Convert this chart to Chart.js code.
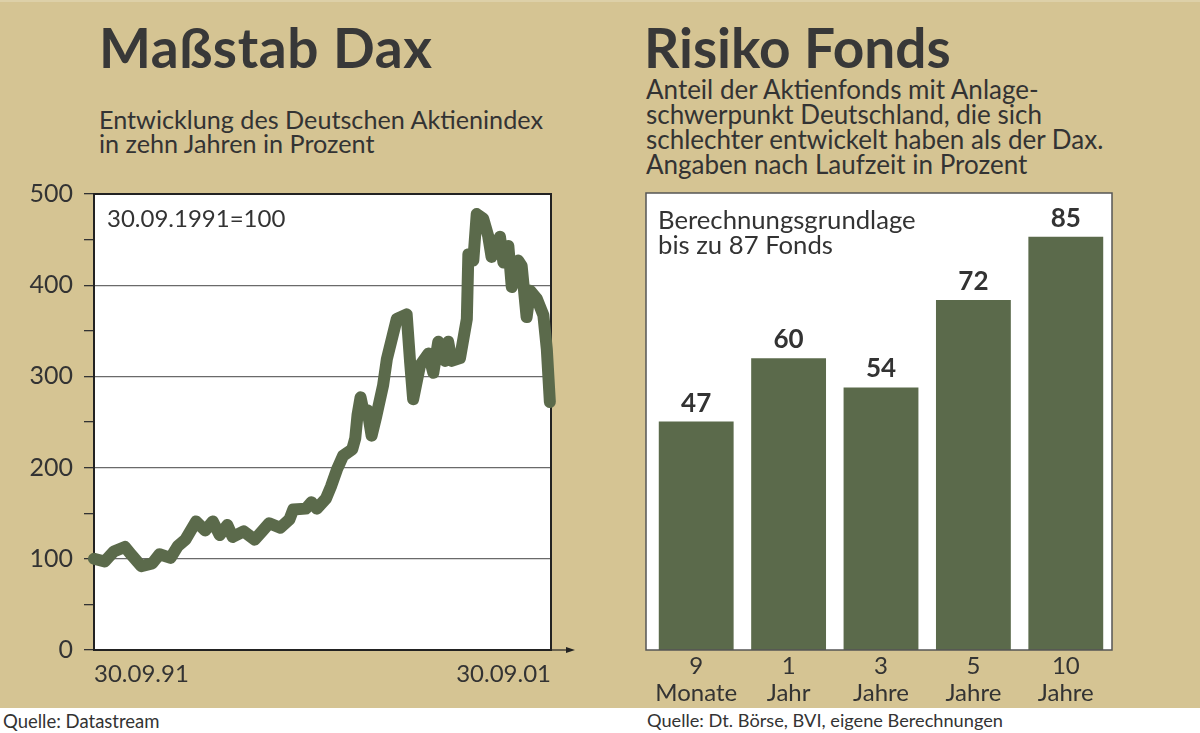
<!DOCTYPE html>
<html><head><meta charset="utf-8">
<script src="https://cdn.jsdelivr.net/npm/chart.js@4.4.0/dist/chart.umd.min.js"></script>
<style>
html,body{margin:0;padding:0;}
body{width:1200px;height:733px;position:relative;background:#d5c493;overflow:hidden;font-family:Lato,sans-serif;color:#333;}
.t{position:absolute;white-space:nowrap;}
#topstrip{position:absolute;left:0;top:0;width:1200px;height:2px;background:#ddd0a8;}
#foot{position:absolute;left:0;top:708px;width:1200px;height:25px;background:#fff;}
canvas{position:absolute;}
</style></head><body>
<div id="topstrip"></div>
<div class="t" style="left:99px;top:14px;font-size:55px;font-weight:700;line-height:1.2;letter-spacing:0.6px;color:#383838;">Maßstab Dax</div>
<div class="t" style="left:99px;top:108px;font-size:25.2px;line-height:23.5px;">Entwicklung des Deutschen Aktienindex<br>in zehn Jahren in Prozent</div>
<div class="t" style="left:644px;top:14px;font-size:55px;font-weight:700;line-height:1.2;color:#383838;">Risiko Fonds</div>
<div class="t" style="left:646px;top:77px;font-size:26px;line-height:25px;">Anteil der Aktienfonds mit Anlage-<br>schwerpunkt Deutschland, die sich<br>schlechter entwickelt haben als der Dax.<br>Angaben nach Laufzeit in Prozent</div>
<div id="foot"></div>
<div class="t" style="left:3px;top:710px;font-size:18.5px;line-height:1.2;">Quelle: Datastream</div>
<div class="t" style="left:647px;top:710px;font-size:18.2px;line-height:1.2;">Quelle: Dt. Börse, BVI, eigene Berechnungen</div>
<canvas id="dax" width="600" height="708" style="left:0;top:0;"></canvas>
<canvas id="fonds" width="600" height="708" style="left:600px;top:0;"></canvas>
<div class="t" style="left:107px;top:204px;font-size:24px;line-height:1.2;">30.09.1991=100</div>
<div class="t" style="left:658px;top:207px;font-size:25.7px;line-height:24.7px;">Berechnungsgrundlage<br>bis zu 87 Fonds</div>
<script>
// ---- Data: DAX, months since 30.09.1991, index 30.09.1991 = 100
const daxMonths = [0, 2.8, 5.2, 8.1, 9.5, 12.4, 15.3, 17.2, 20.1, 22.0, 24.0, 26.8, 29.2, 31.2, 33.0, 35.0, 36.4, 39.3, 42.2, 44.1, 46.0, 48.9, 51.3, 52.3, 55.6, 57.1, 58.5, 60.9, 62.2, 63.8, 65.4, 67.8, 68.6, 69.2, 70.0, 70.9, 71.8, 72.9, 74.1, 75.9, 76.9, 79.5, 82.1, 83.0, 83.8, 85.6, 87.8, 89.1, 90.4, 92.2, 93.0, 93.9, 96.1, 97.9, 98.3, 99.6, 100.5, 102.2, 103.5, 104.4, 106.6, 107.5, 108.8, 109.7, 111.4, 112.3, 113.6, 114.5, 116.3, 118.0, 118.9, 119.7];
const daxValues = [100, 97, 108, 113, 106, 92, 95, 105, 101, 114, 121, 141, 131, 141, 126, 137, 124, 130, 121, 130, 139, 134, 143, 154, 155, 162, 155, 166, 179, 198, 213, 220, 232, 258, 277, 259, 263, 235, 256, 290, 319, 363, 368, 316, 275, 312, 325, 304, 338, 317, 338, 317, 320, 363, 434, 427, 478, 473, 454, 431, 453, 425, 443, 398, 427, 421, 365, 394, 385, 367, 330, 272];
const daxYTicks = [0, 100, 200, 300, 400, 500];
const daxXTickLabels = ['30.09.91', '30.09.01'];

// ---- Data: Fonds
const fondsCategories = [['9', 'Monate'], ['1', 'Jahr'], ['3', 'Jahre'], ['5', 'Jahre'], ['10', 'Jahre']];
const fondsValues = [47, 60, 54, 72, 85];

const GREEN = '#5b6a4b';
const INK = '#333333';
Chart.defaults.font.family = 'Lato, sans-serif';
Chart.defaults.color = INK;

const daxFrame = {
  id: 'daxFrame',
  beforeDraw(chart) {
    const {ctx, chartArea: a} = chart;
    ctx.save();
    ctx.fillStyle = '#ffffff';
    ctx.fillRect(a.left, a.top, a.right - a.left, a.bottom - a.top);
    ctx.restore();
  },
  beforeDatasetsDraw(chart) {
    const {ctx, chartArea: a} = chart;
    ctx.save();
    ctx.strokeStyle = '#222';
    ctx.lineWidth = 2;
    ctx.strokeRect(a.left, a.top, a.right - a.left, a.bottom - a.top);
    // arrow on x axis
    ctx.lineWidth = 1.2;
    ctx.beginPath();
    ctx.moveTo(a.right, a.bottom);
    ctx.lineTo(a.right + 18, a.bottom);
    ctx.stroke();
    ctx.fillStyle = '#222';
    ctx.beginPath();
    ctx.moveTo(a.right + 24, a.bottom);
    ctx.lineTo(a.right + 15, a.bottom - 3);
    ctx.lineTo(a.right + 15, a.bottom + 3);
    ctx.closePath();
    ctx.fill();
    ctx.restore();
  }
};

new Chart(document.getElementById('dax'), {
  type: 'line',
  data: {
    datasets: [{
      data: daxMonths.map((m, i) => ({x: m, y: daxValues[i]})),
      borderColor: GREEN,
      borderWidth: 12,
      borderJoinStyle: 'round',
      borderCapStyle: 'round',
      pointRadius: 0,
      tension: 0,
      clip: false
    }]
  },
  options: {
    responsive: false,
    animation: false,
    devicePixelRatio: 1,
    layout: {padding: {top: 194, left: 0, right: 49, bottom: 0}},
    plugins: {legend: {display: false}, tooltip: {enabled: false}},
    scales: {
      x: {
        type: 'linear', min: 0, max: 120,
        afterBuildTicks(s) { s.ticks = [{value: 0}, {value: 120}]; },
        afterFit(s) { s.height = 58; },
        ticks: {
          align: 'inner', autoSkip: false, maxRotation: 0,
          callback: (v, i) => daxXTickLabels[i],
          font: {size: 24}, color: INK, padding: 10
        },
        grid: {display: false, drawTicks: false},
        border: {display: false}
      },
      y: {
        min: 0, max: 500,
        afterFit(s) { s.width = 94; },
        ticks: {
          stepSize: 50,
          callback: (v) => daxYTicks.includes(v) ? String(v) : '',
          font: {size: 25}, color: INK, padding: 11
        },
        grid: {
          color: (c) => (c.tick && daxYTicks.includes(c.tick.value)) ? '#6a6a6a' : 'rgba(0,0,0,0)',
          lineWidth: 1.3,
          tickLength: 10,
          tickColor: '#333',
          tickWidth: 1.3
        },
        border: {display: false}
      }
    }
  },
  plugins: [daxFrame]
});

const fondsFrame = {
  id: 'fondsFrame',
  beforeDraw(chart) {
    const {ctx, chartArea: a} = chart;
    ctx.save();
    ctx.fillStyle = '#ffffff';
    ctx.fillRect(a.left - 4, a.top, a.right - a.left + 4, a.bottom - a.top);
    ctx.restore();
  },
  afterDatasetsDraw(chart) {
    const {ctx, chartArea: a} = chart;
    ctx.save();
    ctx.strokeStyle = '#555';
    ctx.lineWidth = 1.5;
    ctx.strokeRect(a.left - 4, a.top, a.right - a.left + 4, a.bottom - a.top);
    ctx.fillStyle = INK;
    ctx.font = 'bold 26px Lato, sans-serif';
    ctx.textAlign = 'center';
    ctx.textBaseline = 'alphabetic';
    const meta = chart.getDatasetMeta(0);
    meta.data.forEach((bar, i) => {
      ctx.fillText(String(chart.data.datasets[0].data[i]), bar.x, bar.y - 10);
    });
    ctx.restore();
  }
};

new Chart(document.getElementById('fonds'), {
  type: 'bar',
  data: {
    labels: fondsCategories,
    datasets: [{
      data: fondsValues,
      backgroundColor: GREEN,
      borderWidth: 0,
      categoryPercentage: 1,
      barPercentage: 0.81
    }]
  },
  options: {
    responsive: false,
    animation: false,
    devicePixelRatio: 1,
    layout: {padding: {top: 193, left: 50, right: 88, bottom: 0}},
    plugins: {legend: {display: false}, tooltip: {enabled: false}},
    scales: {
      x: {
        afterFit(s) { s.height = 58; },
        ticks: {font: {size: 24, lineHeight: 1.12}, color: INK, padding: 3, maxRotation: 0, autoSkip: false},
        grid: {display: false, drawTicks: false},
        border: {display: false}
      },
      y: {display: false, min: 0, max: 94}
    }
  },
  plugins: [fondsFrame]
});
</script>
</body></html>
